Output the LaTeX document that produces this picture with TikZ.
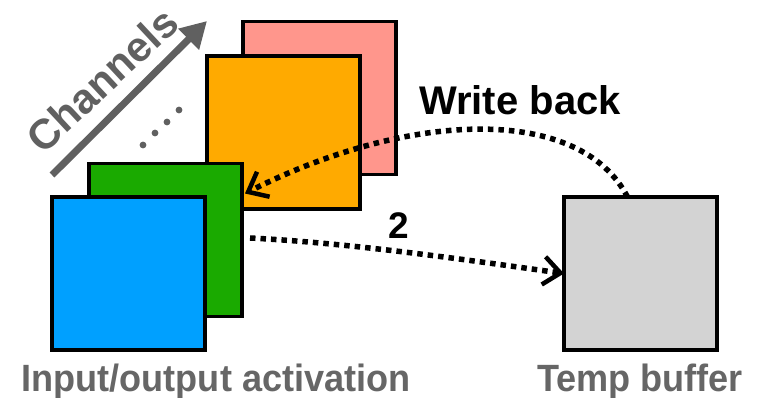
\documentclass[tikz,border=0pt]{standalone}
\usepackage{fontspec}
\setmainfont{Liberation Sans}
\usetikzlibrary{arrows.meta}
\definecolor{pinkc}{HTML}{FF968C}
\definecolor{orangec}{HTML}{FFAA00}
\definecolor{greenc}{HTML}{1AAA00}
\definecolor{bluec}{HTML}{00A0FF}
\definecolor{grayc}{HTML}{D3D3D3}
\definecolor{labelc}{HTML}{666666}
\definecolor{chanc}{HTML}{606060}
\tikzset{
  sq/.style={draw=black, line width=3.5pt, minimum size=153pt, inner sep=0pt, outer sep=0pt},
  lbl/.style={font=\bfseries\fontsize{38}{42}\selectfont, text=labelc, anchor=base, inner sep=0pt, xscale=0.95},
  dotarrow/.style={line width=5.5pt, dash pattern=on 5.5pt off 5pt, -{Straight Barb[length=17pt,width=28pt,line width=4.5pt]}},
}
\begin{document}
\begin{tikzpicture}[x=1pt,y=-1pt]
\fill[white] (0,0) rectangle (758,398);
\useasboundingbox (0,0) rectangle (758,398);
% squares
\node[sq, fill=pinkc] (pink) at (319.5,98) {};
\node[sq, fill=orangec] (orange) at (283.5,132.5) {};
\node[sq, fill=greenc] (green) at (165.5,240) {};
\node[sq, fill=bluec] (blue) at (128.5,273.5) {};
\node[sq, fill=grayc] (temp) at (640.5,273.5) {};
% labels
\node[lbl] (l1) at (216,391) {Input/output activation};
\node[lbl] (l2) at (640,391) {Temp buffer};
\node[font=\bfseries\fontsize{40}{44}\selectfont, anchor=base, inner sep=0pt] (wb) at (520,115) {Write back};
\node[font=\bfseries\fontsize{37}{40}\selectfont, anchor=base, inner sep=0pt] (two) at (399,239) {2};
% channels arrow
\coordinate (cs) at (52,175);
\coordinate (ce) at (207,21);
\draw[chanc, line width=7pt, -{Triangle[length=26pt,width=28pt]}] (cs) -- (ce);
\node[font=\bfseries\fontsize{42}{46}\selectfont, text=chanc, rotate=43, inner sep=0pt] (chan) at (102,80) {Channels};
% dots
\foreach \p in {(143,145),(155,133),(167,122),(179,110)}
  \fill[chanc] \p circle (3.4pt);
% dotted arrows
\draw[dotarrow] ([xshift=8pt,yshift=2pt]green.east) .. controls +(100,5) and +(-100,-14) .. (temp.west);
\draw[dotarrow] ([xshift=-13pt]temp.north) .. controls (580,105) and (410,110) .. ([xshift=3pt,yshift=-30pt]green.north east);
\end{tikzpicture}
\end{document}
